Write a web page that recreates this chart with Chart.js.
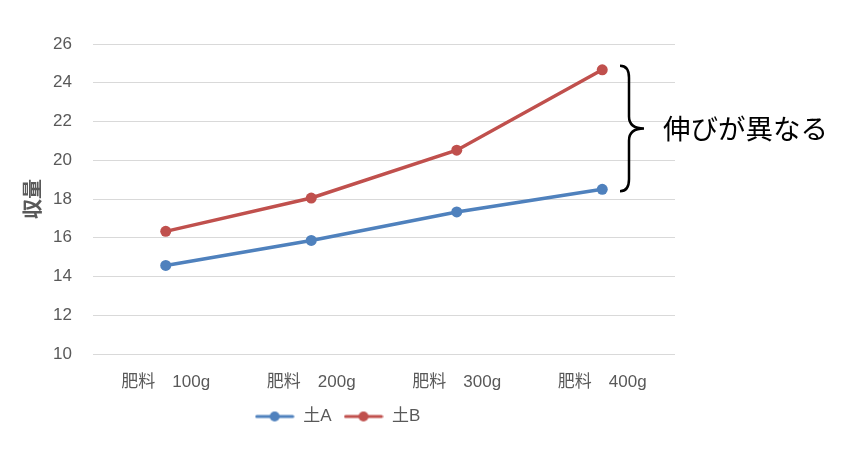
<!DOCTYPE html>
<html>
<head>
<meta charset="utf-8">
<script src="https://cdn.jsdelivr.net/npm/chart.js@4"></script>
<style>
  html, body { margin: 0; padding: 0; background: #fff; }
  #wrap { width: 846px; height: 451px; }
</style>
</head>
<body>
<div id="wrap"><canvas id="yieldChart"></canvas></div>
<script>
// Chart data
const categories = ['肥料　100g', '肥料　200g', '肥料　300g', '肥料　400g'];
const soilA = [14.57, 15.86, 17.33, 18.5];
const soilB = [16.33, 18.05, 20.52, 24.67];
const seriesNames = ['土A', '土B'];
const yTicks = [10, 12, 14, 16, 18, 20, 22, 24, 26];
const annotationText = '伸びが異なる';

const BLUE = '#4f81bd';
const RED = '#c0504d';
const TEXT = '#595959';
const FONT = '"Liberation Sans", "Noto Sans CJK JP", sans-serif';

// legend icon: short line with a dot in the middle
function legendIcon(color) {
    const c = document.createElement('canvas');
    c.width = 40;
    c.height = 12;
    const g = c.getContext('2d');
    g.strokeStyle = color;
    g.lineWidth = 3;
    g.lineCap = 'round';
    g.beginPath();
    g.moveTo(2, 6);
    g.lineTo(38, 6);
    g.stroke();
    g.fillStyle = color;
    g.beginPath();
    g.arc(20, 6, 5, 0, Math.PI * 2);
    g.fill();
    return c;
}

// Curly brace + note between the last points of both series
const bracePlugin = {
    id: 'brace',
    afterDraw(chart) {
        const ctx = chart.ctx;
        const y = chart.scales.y;
        const top = y.getPixelForValue(soilB[soilB.length - 1]) - 4;
        const bottom = y.getPixelForValue(soilA[soilA.length - 1]) + 2;
        const mid = (top + bottom) / 2;
        const x0 = 620, xs = 629, xt = 644;

        ctx.save();
        ctx.strokeStyle = '#000';
        ctx.lineWidth = 2.5;
        ctx.beginPath();
        ctx.moveTo(x0, top);
        ctx.quadraticCurveTo(xs, top, xs, top + 12);
        ctx.lineTo(xs, mid - 12);
        ctx.quadraticCurveTo(xs, mid, xt, mid);
        ctx.quadraticCurveTo(xs, mid, xs, mid + 12);
        ctx.lineTo(xs, bottom - 12);
        ctx.quadraticCurveTo(xs, bottom, x0, bottom);
        ctx.stroke();

        ctx.fillStyle = '#000';
        ctx.font = '27.5px "Noto Sans CJK JP", sans-serif';
        ctx.textBaseline = 'middle';
        ctx.textAlign = 'left';
        ctx.fillText(annotationText, 663, mid);
        ctx.restore();
    }
};

const ctx = document.getElementById('yieldChart');
new Chart(ctx, {
    type: 'line',
    data: {
        labels: categories,
        datasets: [
            {
                label: seriesNames[0],
                data: soilA,
                borderColor: BLUE,
                backgroundColor: BLUE,
                borderWidth: 3.5,
                pointRadius: 5.5,
                pointBorderWidth: 0,
                tension: 0
            },
            {
                label: seriesNames[1],
                data: soilB,
                borderColor: RED,
                backgroundColor: RED,
                borderWidth: 3.5,
                pointRadius: 5.5,
                pointBorderWidth: 0,
                tension: 0
            }
        ]
    },
    options: {
        responsive: true,
        maintainAspectRatio: false,
        animation: false,
        layout: {
            padding: { left: 0, right: 171, top: 44, bottom: 16 }
        },
        plugins: {
            tooltip: { enabled: false },
            legend: {
                position: 'bottom',
                labels: {
                    usePointStyle: true,
                    pointStyleWidth: 40,
                    boxHeight: 12,
                    padding: 12,
                    color: TEXT,
                    font: { size: 17, family: FONT },
                    generateLabels(chart) {
                        return chart.data.datasets.map((ds, i) => ({
                            text: ds.label,
                            fillStyle: ds.borderColor,
                            strokeStyle: ds.borderColor,
                            fontColor: TEXT,
                            lineWidth: 0,
                            pointStyle: legendIcon(ds.borderColor),
                            hidden: false,
                            datasetIndex: i
                        }));
                    }
                }
            }
        },
        scales: {
            x: {
                offset: true,
                grid: { display: false, drawTicks: false },
                border: { display: false },
                afterFit(axis) {
                    axis.height = 42;
                },
                ticks: {
                    color: TEXT,
                    padding: 18,
                    maxRotation: 0,
                    font: { size: 17, family: FONT }
                }
            },
            y: {
                min: 10,
                max: 26,
                afterBuildTicks(axis) {
                    axis.ticks = yTicks.map(v => ({ value: v }));
                },
                afterFit(axis) {
                    axis.width = 93;
                },
                grid: { color: '#d9d9d9', lineWidth: 1, drawTicks: false },
                border: { display: false },
                title: {
                    display: true,
                    text: '収量',
                    color: TEXT,
                    font: { size: 20, weight: 'bold', family: FONT },
                    padding: { top: 22, bottom: 0 }
                },
                ticks: {
                    color: TEXT,
                    padding: 21,
                    font: { size: 17, family: FONT }
                }
            }
        }
    },
    plugins: [bracePlugin]
});
</script>
</body>
</html>
